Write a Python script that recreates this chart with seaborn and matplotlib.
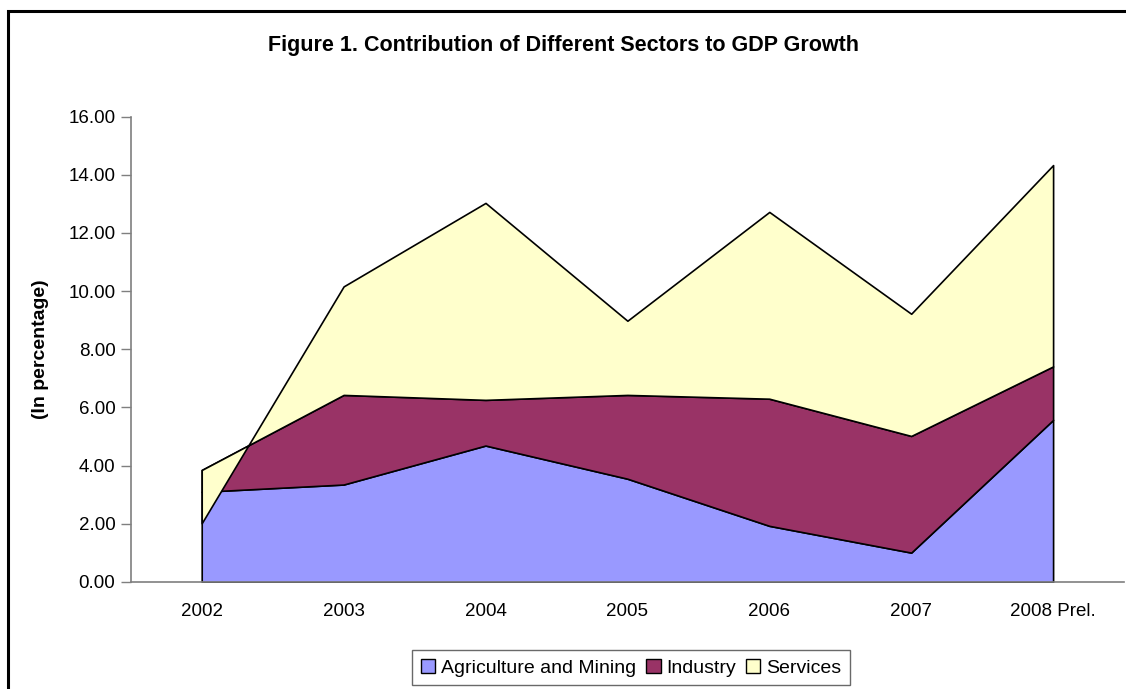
import numpy as np
import pandas as pd
import matplotlib
matplotlib.use("Agg")
import matplotlib.pyplot as plt
from matplotlib.patches import Patch, Rectangle
import seaborn as sns

# ---- data ----
years = ["2002", "2003", "2004", "2005", "2006", "2007", "2008 Prel."]
agriculture = [3.10, 3.35, 4.69, 3.55, 1.93, 1.01, 5.57]
industry = [0.75, 3.08, 1.57, 2.88, 4.37, 4.01, 1.84]
services = [-1.83, 3.73, 6.77, 2.55, 6.42, 4.20, 6.92]
series_names = ["Agriculture and Mining", "Industry", "Services"]
colors = ["#9999FF", "#993366", "#FFFFCC"]
yticks = [0, 2, 4, 6, 8, 10, 12, 14, 16]

sns.set_theme(style="white")
plt.rcParams['font.family'] = ['Liberation Sans', 'DejaVu Sans']
plt.rcParams['text.color'] = 'black'
plt.rcParams['axes.labelcolor'] = 'black'

df = pd.DataFrame({"year": years, series_names[0]: agriculture,
                   series_names[1]: industry, series_names[2]: services})
vals = df[series_names].to_numpy()
cum = np.cumsum(vals, axis=1)
x = np.arange(len(years))

fig = plt.figure(figsize=(11.26, 6.89), dpi=100)
W, H = 1126, 689
ax = fig.add_axes([130.75 / W, 1 - 582 / H, 993.3 / W, 465.5 / H])

lower = np.zeros(len(years))
for i, name in enumerate(series_names):
    upper = cum[:, i]
    ax.fill_between(x, lower, upper, facecolor=colors[i], edgecolor="black",
                    linewidth=1.2, zorder=2 + i)
    lower = upper

# stack tops through seaborn (drawn beneath the outlined areas)
long = pd.DataFrame({"x": np.tile(x, 3),
                     "y": cum.T.ravel(),
                     "s": np.repeat(series_names, len(x))})
sns.lineplot(data=long, x="x", y="y", units="s", estimator=None, color="black",
             linewidth=0, ax=ax, legend=False, zorder=1)

ax.set_xlim(-0.5, len(years) - 0.5)
ax.set_ylim(0, 16)
ax.set_yticks(yticks)
ax.set_yticklabels([f"{v:.2f}" for v in yticks], fontsize=13.5)
ax.set_xticks(x)
ax.set_xticklabels(years, fontsize=13.5)
ax.set_xticks(np.arange(-0.5, len(years), 1.0), minor=True)
ax.tick_params(axis="x", which="major", length=0, pad=15, labelcolor="black")
ax.tick_params(axis="x", which="minor", length=6, width=1, color="#7f7f7f", direction="out")
ax.tick_params(axis="y", which="major", length=7, width=1, color="#7f7f7f", direction="out",
               pad=4, left=True, labelcolor="black")
ax.set_xlabel("")
ax.set_ylabel("(In percentage)", fontsize=14, fontweight="bold", labelpad=14, color="black")
for s in ["top", "right"]:
    ax.spines[s].set_visible(False)
for s in ["left", "bottom"]:
    ax.spines[s].set_color("#7f7f7f")
    ax.spines[s].set_linewidth(1.2)
    ax.spines[s].set_zorder(10)
ax.grid(False)

fig.text(563 / W, 1 - 45 / H, "Figure 1. Contribution of Different Sectors to GDP Growth",
         ha="center", va="center", fontsize=15.5, fontweight="bold", color="black")

handles = [Patch(facecolor=c, edgecolor="black", linewidth=1.0) for c in colors]
leg = fig.legend(handles, series_names, loc="upper left",
                 bbox_to_anchor=(412 / W, 1 - 650 / H), ncol=3, frameon=True,
                 fancybox=False, fontsize=14, handlelength=0.75, handleheight=0.75,
                 handletextpad=0.3, columnspacing=0.5, borderpad=0.45, borderaxespad=0)
leg.get_frame().set_edgecolor("#444444")
leg.get_frame().set_linewidth(1.0)
for t in leg.get_texts():
    t.set_color("black")

border = Rectangle((8 / W, -0.05), 1.2, 1 - 11 / H + 0.05, transform=fig.transFigure,
                   fill=False, edgecolor="black", linewidth=2.2, clip_on=False)
fig.patches.append(border)

fig.savefig("out.png", dpi=100)
